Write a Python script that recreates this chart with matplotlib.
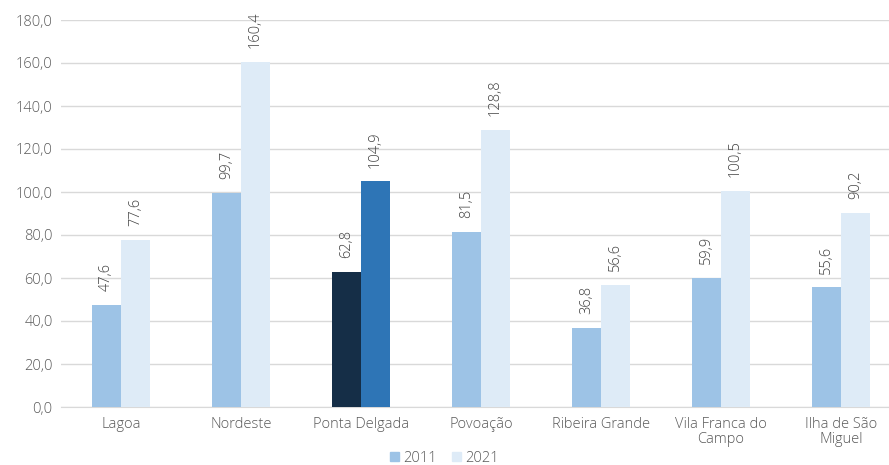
import matplotlib
matplotlib.use("Agg")
import matplotlib.pyplot as plt
from matplotlib.patches import Patch

categories = ["Lagoa", "Nordeste", "Ponta Delgada", "Povoação",
              "Ribeira Grande", "Vila Franca do\nCampo", "Ilha de São\nMiguel"]
values_2011 = [47.6, 99.7, 62.8, 81.5, 36.8, 59.9, 55.6]
values_2021 = [77.6, 160.4, 104.9, 128.8, 56.6, 100.5, 90.2]
series_names = ["2011", "2021"]
y_ticks = [0, 20, 40, 60, 80, 100, 120, 140, 160, 180]

c2011 = "#9DC3E6"
c2021 = "#DEEBF7"
hl2011 = "#152E47"
hl2021 = "#2E75B6"
highlight = "Ponta Delgada"
text_col = "#595959"
label_col = "#404040"

plt.rcParams["font.family"] = ["Open Sans", "DejaVu Sans"]

fig = plt.figure(figsize=(8.89, 4.65), dpi=100)
ax = fig.add_axes([61 / 889, 1 - 407 / 465, 1 - 61 / 889, (407 - 20) / 465])

w = 0.24
x = list(range(len(categories)))
for i, cat in enumerate(categories):
    a, b = (hl2011, hl2021) if cat == highlight else (c2011, c2021)
    ax.bar(i - w / 2, values_2011[i], w, color=a, zorder=3)
    ax.bar(i + w / 2, values_2021[i], w, color=b, zorder=3)
    for xv, v in ((i - w / 2, values_2011[i]), (i + w / 2, values_2021[i])):
        ax.annotate(f"{v:.1f}".replace(".", ","), (xv, v), xytext=(0, 10),
                    textcoords="offset points", rotation=90,
                    ha="center", va="bottom", fontsize=10.5, color=label_col,
                    fontweight="light")

ax.set_ylim(0, 180)
ax.set_xlim(-0.5, -0.5 + 828 / 120)
ax.set_yticks(y_ticks)
ax.set_yticklabels([f"{t:.1f}".replace(".", ",") for t in y_ticks],
                   fontsize=10.5, color=text_col, fontweight="light")
ax.set_xticks(x)
ax.set_xticklabels(categories, fontsize=10.5, color=text_col,
                   fontweight="light", linespacing=1.05)
ax.tick_params(length=0, pad=6)
ax.tick_params(axis="x", pad=7)
ax.yaxis.grid(True, color="#D9D9D9", linewidth=1, zorder=0)
for s in ["top", "right", "left"]:
    ax.spines[s].set_visible(False)
ax.spines["bottom"].set_color("#D9D9D9")

handles = [Patch(color=c2011), Patch(color=c2021)]
leg = fig.legend(handles, series_names, loc="center", bbox_to_anchor=(0.5, 1 - 458 / 465),
                 ncol=2, frameon=False, fontsize=10.5, handlelength=0.6, handleheight=0.6,
                 handletextpad=0.3, columnspacing=1.0, labelcolor=text_col)
for t in leg.get_texts():
    t.set_fontweight("light")

fig.savefig("out.png", dpi=100)
